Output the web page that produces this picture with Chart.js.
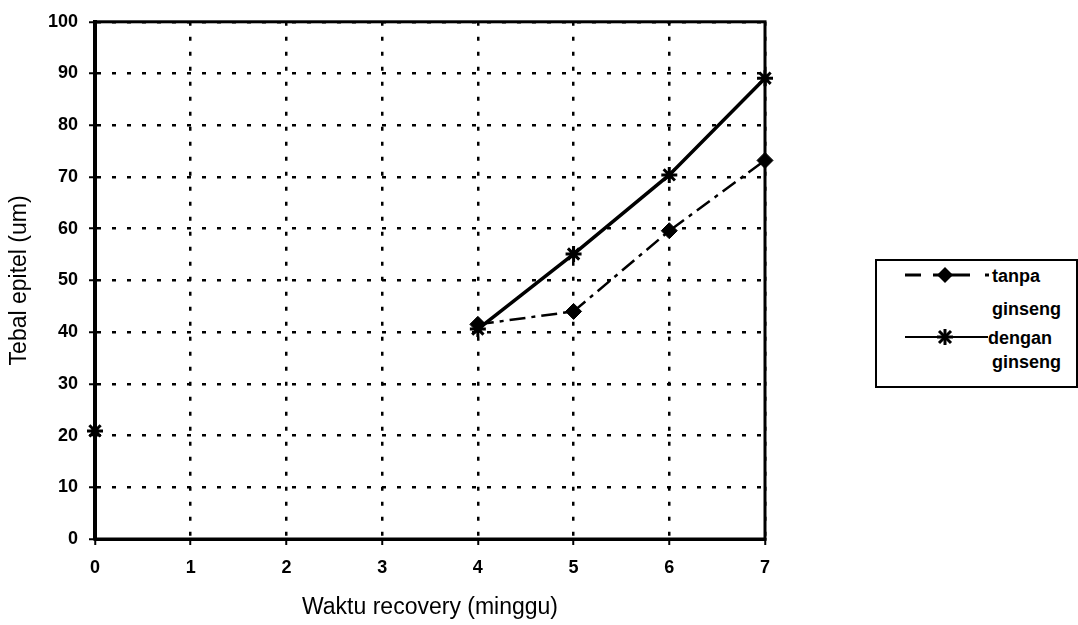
<!DOCTYPE html>
<html>
<head>
<meta charset="utf-8">
<script src="https://cdn.jsdelivr.net/npm/chart.js@4.4.1/dist/chart.umd.min.js"></script>
<style>
  html, body { margin: 0; padding: 0; background: #fff; }
  #wrap { position: relative; width: 1078px; height: 625px; }
  #legend { position: absolute; left: 875px; top: 258px; }
  #legend text { font-family: "Liberation Sans", Arial, sans-serif; font-weight: bold; font-size: 18px; fill: #000; }
</style>
</head>
<body>
<div id="wrap">
  <canvas id="graphiqueEpitel" width="1078" height="625"></canvas>
  <svg id="legend" width="203" height="131">
    <rect x="1" y="2" width="201" height="127" fill="#fff" stroke="#000" stroke-width="2"></rect>
    <line x1="30" y1="17" x2="46" y2="17" stroke="#000" stroke-width="3"></line>
    <line x1="58" y1="17" x2="95" y2="17" stroke="#000" stroke-width="3"></line>
    <line x1="110" y1="17" x2="114" y2="17" stroke="#000" stroke-width="3"></line>
    <polygon points="70,9 78,17 70,25 62,17" fill="#000"></polygon>
    <line x1="30" y1="79" x2="113" y2="79" stroke="#000" stroke-width="2"></line>
    <g stroke="#000" stroke-width="3">
      <line x1="62" y1="79" x2="78" y2="79"></line>
      <line x1="70" y1="71" x2="70" y2="87"></line>
      <line x1="64" y1="73" x2="76" y2="85"></line>
      <line x1="64" y1="85" x2="76" y2="73"></line>
    </g>
    <text x="117" y="24">tanpa</text>
    <text x="117" y="57">ginseng</text>
    <text x="113" y="86">dengan</text>
    <text x="117" y="110">ginseng</text>
  </svg>
</div>
<script>
// Tebal epitel (um) per minggu recovery
var minggu = ['0', '1', '2', '3', '4', '5', '6', '7'];
var tanpaGinseng = [null, null, null, null, 41.5, 44, 59.6, 73.2];
var denganGinseng = [20.9, null, null, null, 40.6, 55.1, 70.4, 89.1];

var fontTick = { family: '"Liberation Sans", Arial, sans-serif', size: 18, weight: 'bold' };
var fontTitre = { family: '"Liberation Sans", Arial, sans-serif', size: 23 };

// cadre plein autour de la zone du graphique
var cadre = {
    id: 'cadre',
    beforeDatasetsDraw: function (chart) {
        var a = chart.chartArea, ctx = chart.ctx;
        ctx.save();
        ctx.strokeStyle = '#000';
        ctx.lineWidth = 3;
        ctx.setLineDash([]);
        ctx.strokeRect(a.left, a.top, a.right - a.left, a.bottom - a.top);
        ctx.restore();
    }
};

var ctx = document.getElementById('graphiqueEpitel').getContext('2d');

var graphique = new Chart(ctx, {
    type: 'line',
    data: {
        labels: minggu,
        datasets: [
            {
                label: 'tanpa ginseng',
                data: tanpaGinseng,
                borderColor: '#000',
                borderWidth: 2.5,
                borderDash: [16, 6, 4, 6],
                pointStyle: 'rectRot',
                pointRadius: 8,
                pointBackgroundColor: '#000',
                pointBorderColor: '#000',
                pointBorderWidth: 1,
                tension: 0
            },
            {
                label: 'dengan ginseng',
                data: denganGinseng,
                borderColor: '#000',
                borderWidth: 3.5,
                pointStyle: 'star',
                pointRadius: 8,
                pointBackgroundColor: '#000',
                pointBorderColor: '#000',
                pointBorderWidth: 3,
                tension: 0
            }
        ]
    },
    options: {
        responsive: false,
        animation: false,
        devicePixelRatio: 1,
        layout: { padding: { left: 0, top: 18, right: 313, bottom: 0 } },
        plugins: {
            legend: { display: false },
            tooltip: { enabled: false }
        },
        scales: {
            x: {
                offset: false,
                afterFit: function (scale) { scale.height = 86; },
                ticks: { font: fontTick, color: '#000', padding: 12, maxRotation: 0, autoSkip: false },
                grid: { color: '#000', lineWidth: 2.5, tickLength: 6, tickColor: '#000', tickWidth: 2 },
                border: { display: true, color: '#000', width: 3, dash: [4, 11] },
                title: { display: true, text: 'Waktu recovery (minggu)', font: fontTitre, color: '#000', padding: { top: 0, bottom: 4 } }
            },
            y: {
                min: 0,
                max: 100,
                afterFit: function (scale) { scale.width = 95; },
                ticks: { stepSize: 10, font: fontTick, color: '#000', padding: 11 },
                grid: { color: '#000', lineWidth: 2.5, tickLength: 6, tickColor: '#000', tickWidth: 2 },
                border: { display: true, color: '#000', width: 4, dash: [4, 11] },
                title: { display: true, text: 'Tebal epitel (um)', font: fontTitre, color: '#000', padding: { top: 6, bottom: 0 } }
            }
        }
    },
    plugins: [cadre]
});
</script>
</body>
</html>
